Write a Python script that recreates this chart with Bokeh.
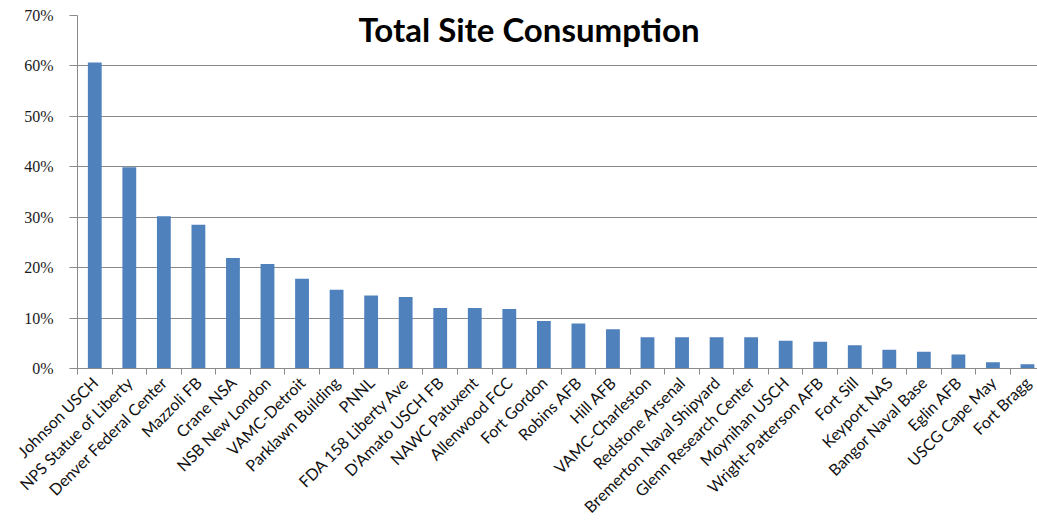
from bokeh.plotting import figure
from bokeh.models import Range1d, FixedTicker, NumeralTickFormatter, Label, ColumnDataSource
from bokeh.embed import file_html
from bokeh.resources import INLINE
import math

title_text = "Total Site Consumption"

sites = [
    "Johnson USCH", "NPS Statue of Liberty", "Denver Federal Center", "Mazzoli FB",
    "Crane NSA", "NSB New London", "VAMC-Detroit", "Parklawn Building", "PNNL",
    "FDA 158 Liberty Ave", "D'Amato USCH FB", "NAWC Patuxent", "Allenwood FCC",
    "Fort Gordon", "Robins AFB", "Hill AFB", "VAMC-Charleston", "Redstone Arsenal",
    "Bremerton Naval Shipyard", "Glenn Research Center", "Moynihan USCH",
    "Wright-Patterson AFB", "Fort Sill", "Keyport NAS", "Bangor Naval Base",
    "Eglin AFB", "USCG Cape May", "Fort Bragg",
]

consumption_share = [
    0.607, 0.399, 0.302, 0.285, 0.219, 0.207, 0.178, 0.156, 0.145,
    0.142, 0.120, 0.120, 0.118, 0.094, 0.089, 0.078, 0.062, 0.062,
    0.062, 0.062, 0.055, 0.053, 0.046, 0.037, 0.033, 0.028, 0.0125, 0.0085,
]

y_ticks = [0.0, 0.1, 0.2, 0.3, 0.4, 0.5, 0.6, 0.7]

n = len(sites)
centers = [i + 0.5 for i in range(n)]
boundaries = [float(i) for i in range(n + 1)]

source = ColumnDataSource(dict(x=centers, top=consumption_share, site=sites))

p = figure(
    width=1037, height=525,
    output_backend="svg", toolbar_location=None,
    x_range=Range1d(0, n - 0.21), y_range=Range1d(y_ticks[0], y_ticks[-1]),
    min_border_left=77, min_border_right=0, min_border_top=15, min_border_bottom=157,
    background_fill_color="white", border_fill_color="white",
)
p.outline_line_color = None

p.vbar(x="x", top="top", bottom=0, width=0.4, source=source,
       fill_color="#4F81BD", line_color=None)

GRAY = "#8a8a8a"

# y axis
p.yaxis.ticker = FixedTicker(ticks=y_ticks)
p.yaxis.formatter = NumeralTickFormatter(format="0%")
p.yaxis.axis_line_color = GRAY
p.yaxis.major_tick_line_color = GRAY
p.yaxis.major_tick_in = 0
p.yaxis.major_tick_out = 8
p.yaxis.minor_tick_line_color = None
p.yaxis.major_label_standoff = 16
p.yaxis.major_label_text_font = "Liberation Serif"
p.yaxis.major_label_text_font_size = "16px"
p.yaxis.major_label_text_color = "#1a1a1a"

# x axis
p.xaxis.ticker = FixedTicker(ticks=centers, minor_ticks=boundaries)
p.xaxis.major_label_overrides = {c: s for c, s in zip(centers, sites)}
p.xaxis.major_label_orientation = math.pi / 4
p.xaxis.axis_line_color = GRAY
p.xaxis.major_tick_line_color = None
p.xaxis.major_tick_in = 0
p.xaxis.major_tick_out = 6
p.xaxis.minor_tick_line_color = GRAY
p.xaxis.minor_tick_in = 0
p.xaxis.minor_tick_out = 6
p.xaxis.major_label_standoff = 5
p.xaxis.major_label_text_font = "Lato"
p.xaxis.major_label_text_font_size = "16px"
p.xaxis.major_label_text_color = "#111111"

# grid
p.xgrid.grid_line_color = None
p.ygrid.grid_line_color = GRAY
p.ygrid.grid_line_width = 1

# title drawn over the top of the plot area
title = Label(
    x=n / 2 - 0.93, y=y_ticks[-1], text=title_text,
    text_align="center", text_baseline="top", y_offset=7,
    text_font="Lato", text_font_style="bold", text_font_size="33px",
    text_color="#000000", background_fill_color="white",
)
p.add_layout(title)

open("out.html", "w").write(file_html(p, INLINE))
